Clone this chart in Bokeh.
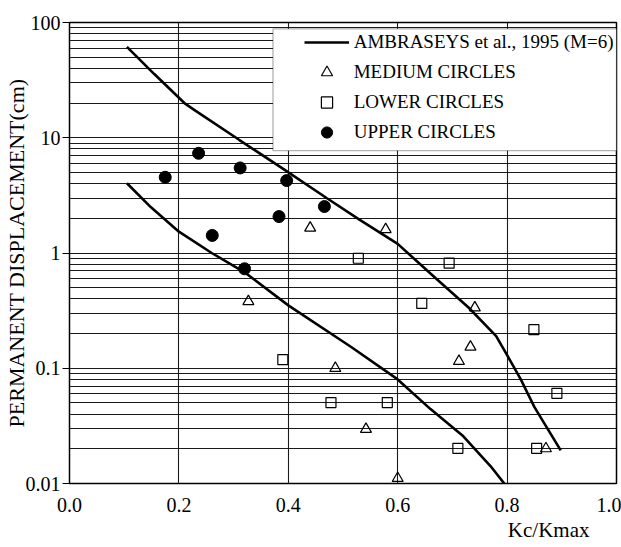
import math
from bokeh.plotting import figure
from bokeh.models import (Range1d, FixedTicker, Legend, LegendItem, Title,
                          BoxAnnotation)
from bokeh.embed import file_html
from bokeh.resources import INLINE

# ---- data ----
x_ticks = [0.0, 0.2, 0.4, 0.6, 0.8, 1.0]
x_tick_labels = ["0.0", "0.2", "0.4", "0.6", "0.8", "1.0"]
y_ticks = [0.01, 0.1, 1, 10, 100]
y_tick_labels = ["0.01", "0.1", "1", "10", "100"]

# Ambraseys et al. (1995), M=6 : upper and lower bounding curves
upper_x = [0.105, 0.155, 0.21, 0.23, 0.31, 0.39, 0.47, 0.53, 0.60, 0.67,
           0.73, 0.78, 0.80, 0.825, 0.85, 0.898]
upper_y = [61.5, 35.7, 20.0, 17.2, 9.6, 5.4, 3.0, 1.95, 1.2, 0.60,
           0.335, 0.19, 0.13, 0.08, 0.046, 0.0194]
lower_x = [0.105, 0.149, 0.20, 0.26, 0.32, 0.40, 0.515, 0.60, 0.66,
           0.72, 0.77, 0.80]
lower_y = [4.03, 2.49, 1.53, 1.0, 0.68, 0.351, 0.153, 0.080, 0.0442,
           0.0257, 0.0141, 0.0093]

medium_x = [0.440, 0.578, 0.327, 0.741, 0.733, 0.712, 0.486, 0.542, 0.871, 0.600]
medium_y = [1.65, 1.60, 0.380, 0.335, 0.153, 0.115, 0.100, 0.0296, 0.0201, 0.0111]

lower_cx = [0.528, 0.694, 0.644, 0.849, 0.891, 0.478, 0.581, 0.710, 0.854, 0.390]
lower_cy = [0.90, 0.816, 0.365, 0.216, 0.0606, 0.0504, 0.0504, 0.0202, 0.0202, 0.119]

upper_cx = [0.175, 0.236, 0.312, 0.397, 0.466, 0.383, 0.261, 0.320]
upper_cy = [4.54, 7.33, 5.47, 4.25, 2.53, 2.07, 1.42, 0.73]

curve_label = "AMBRASEYS et al., 1995 (M=6)"
series_labels = ["MEDIUM CIRCLES", "LOWER CIRCLES", "UPPER CIRCLES"]
x_title = "Kc/Kmax"
y_title = "PERMANENT DISPLACEMENT(cm)"

FONT = "Liberation Serif"

p = figure(frame_width=547, frame_height=461,
           x_range=Range1d(0, 1), y_range=Range1d(0.01, 100),
           y_axis_type="log", output_backend="svg", toolbar_location=None,
           min_border_left=68, min_border_right=5, min_border_top=22,
           min_border_bottom=20)
p.background_fill_color = "white"
p.border_fill_color = "white"
p.outline_line_color = "black"
p.outline_line_width = 1.5
p.outline_line_alpha = 1

minor = [m * 10.0 ** e for e in range(-2, 2) for m in range(2, 10)]
xt = FixedTicker(ticks=x_ticks)
yt = FixedTicker(ticks=y_ticks, minor_ticks=minor)
p.xaxis.ticker = xt
p.yaxis.ticker = yt
p.xgrid.ticker = xt
p.ygrid.ticker = yt
p.xaxis.major_label_overrides = dict(zip(x_ticks, x_tick_labels))
p.yaxis.major_label_overrides = dict(zip(y_ticks, y_tick_labels))

for ax in (p.xaxis, p.yaxis):
    ax.axis_line_color = "black"
    ax.minor_tick_in = 0
    ax.minor_tick_out = 0
    ax.major_tick_in = 0
    ax.major_label_text_font = FONT
    ax.major_label_text_font_size = "20px"
    ax.major_label_text_color = "black"
    ax.major_tick_line_color = "black"
p.xaxis.major_tick_out = 0
p.xaxis.major_label_standoff = 14
p.yaxis.major_tick_out = 7
p.yaxis.major_label_standoff = 2

p.yaxis.axis_label = y_title
p.yaxis.axis_label_standoff = -6
p.yaxis.axis_label_text_font = FONT
p.yaxis.axis_label_text_font_size = "22px"
p.yaxis.axis_label_text_font_style = "normal"
p.yaxis.axis_label_text_color = "black"

p.xgrid.grid_line_color = "#1a1a1a"
p.xgrid.grid_line_width = 1.1
p.ygrid.grid_line_color = "#1a1a1a"
p.ygrid.grid_line_width = 1.1
p.ygrid.minor_grid_line_color = "#1a1a1a"
p.ygrid.minor_grid_line_width = 1.1

r_up = p.line(upper_x, upper_y, line_color="black", line_width=2.6)
p.line(lower_x, lower_y, line_color="black", line_width=2.6)
r_med = p.scatter(medium_x, medium_y, marker="triangle", size=11,
                  line_color="black", line_width=1.2, fill_alpha=0)
r_low = p.scatter(lower_cx, lower_cy, marker="square", size=10,
                  line_color="black", line_width=1.2, fill_alpha=0)
r_upc = p.scatter(upper_cx, upper_cy, marker="circle", size=12,
                  line_color="black", fill_color="black")

box = BoxAnnotation(left=0.372, right=1.0, top=88.2, bottom=7.73,
                    fill_color="white", fill_alpha=1,
                    line_color="black", line_width=1.3)
p.add_layout(box)

legend = Legend(items=[
    LegendItem(label=curve_label, renderers=[r_up]),
    LegendItem(label=series_labels[0], renderers=[r_med]),
    LegendItem(label=series_labels[1], renderers=[r_low]),
    LegendItem(label=series_labels[2], renderers=[r_upc]),
], location=(234.7, 337.3), padding=0, spacing=2, glyph_width=45,
    glyph_height=28, label_height=28, label_standoff=5,
    border_line_alpha=0, background_fill_alpha=0,
    label_text_font=FONT, label_text_font_size="19px",
    label_text_color="black")
p.add_layout(legend)

xlab = Title(text=x_title, align="right", offset=27, standoff=3,
             text_font=FONT, text_font_size="21px", text_font_style="normal",
             text_color="black")
p.add_layout(xlab, "below")

open("out.html", "w").write(file_html(p, INLINE))
